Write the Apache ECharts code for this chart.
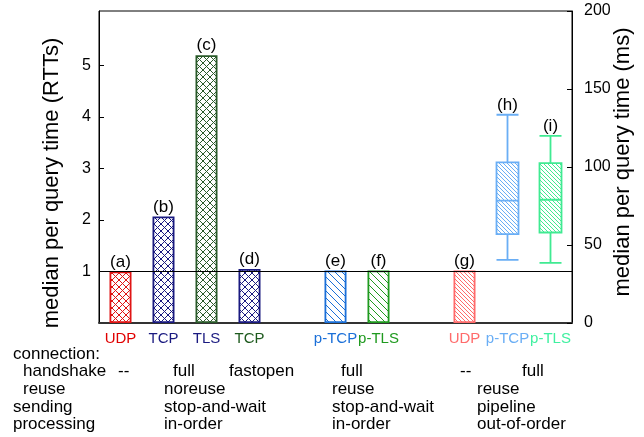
<!DOCTYPE html>
<html>
<head>
<meta charset="utf-8">
<script src="https://cdn.jsdelivr.net/npm/echarts@6/dist/echarts.min.js"></script>
<style>
html,body{margin:0;padding:0;background:#fff;}
#c{width:644px;height:437px;}
</style>
</head>
<body>
<div id="c"></div>
<script>
// ---------- data ----------
const categories = ['UDP','TCP','TLS','TCP','','p-TCP','p-TLS','','UDP','p-TCP','p-TLS'];
const barLetters = ['(a)','(b)','(c)','(d)','','(e)','(f)','','(g)','(h)','(i)'];
const barRTT     = [1.0, 2.07, 5.2, 1.05, null, 1.02, 1.02, null, 1.02, null, null];
// boxplots in ms: [categoryIndex, min, Q1, median, Q3, max]
const boxH = [9, 40.5, 57, 78.5, 103, 133.5];
const boxI = [10, 38.5, 58, 79, 102.5, 120];
const rttTicks = [1,2,3,4,5];
const msTicks  = [0,50,100,150,200];
const msPerRTT = 33;   // scale relation between the two axes
const refRTT = 1;

const rowNames = ['connection:','handshake','reuse','sending','processing'];
const rowValues = [
  [],
  ['--','full','fastopen','full','--','full'],
  ['noreuse','reuse','reuse'],
  ['stop-and-wait','stop-and-wait','pipeline'],
  ['in-order','in-order','out-of-order']
];

// ---------- styles / layout ----------
const barColors = ['#e01515','#1a1a80','#2a5a2a','#1a1a80',null,'#1a6fd8','#1f9a1f',null,'#ff6b6b','#6aaef5','#40ea92'];
const labelColors = ['#e00000','#1a1a80','#1a1a80','#1e5a1e','#000','#1a6fd8','#1f9a1f','#000','#ff6b6b','#6aaef5','#40f0a0'];
const patternKind = ['cross','cross','cross','cross',null,'diag6','diag6',null,'diag4','diag4','diag4'];
const rowX = [13,23,23,13,13];
const rowY = [356,373,391,409,426];
const valX = [
  [],
  [118,173,229,341,460,522],
  [164,332,477],
  [164,332,477],
  [164,332,477]
];
const FONT = '"Liberation Sans", Arial, Helvetica, sans-serif';

function makePattern(kind, color){
  const c = document.createElement('canvas');
  let p;
  if (kind === 'cross') p = 7; else if (kind === 'diag6') p = 7; else p = 4;
  c.width = p; c.height = p;
  const g = c.getContext('2d');
  g.fillStyle = '#fff'; g.fillRect(0,0,p,p);
  g.strokeStyle = color; g.lineWidth = 1;
  g.beginPath();
  for (let k=-1;k<=1;k++){
    g.moveTo(k*p, 0); g.lineTo(k*p+p, p);
    if (kind === 'cross'){ g.moveTo(k*p+p, 0); g.lineTo(k*p, p); }
  }
  g.stroke();
  return {image: c, repeat: 'repeat'};
}

const barData = barRTT.map((v,i)=> v==null ? '-' : ({
  value: v,
  itemStyle: {color: makePattern(patternKind[i], barColors[i]), borderColor: barColors[i], borderWidth: 1.8},
  label: {show:true, formatter: barLetters[i]}
}));

const boxData = [boxH, boxI].map(b => ({
  value: b,
  itemStyle: {color: makePattern(patternKind[b[0]], barColors[b[0]]), borderColor: barColors[b[0]], borderWidth: 1.8}
}));
const boxLabelData = [boxH, boxI].map(b => ({value: [b[0], b[5]], label: {formatter: barLetters[b[0]]}}));

const graphics = [];
rowNames.forEach((n,r)=>{
  graphics.push({type:'text', left: rowX[r], top: rowY[r]-10, style:{text:n, font:'17px '+FONT, fill:'#000'}});
  rowValues[r].forEach((t,j)=>{
    graphics.push({type:'text', left: valX[r][j], top: rowY[r]-10, style:{text:t, font:'17px '+FONT, fill:'#000'}});
  });
});
graphics.push({type:'text', x:52, y:183, rotation: Math.PI/2,
  style:{text:'median per query time (RTTs)', font:'22px '+FONT, fill:'#000', align:'center', verticalAlign:'middle'}});
graphics.push({type:'text', x:623, y:162, rotation: Math.PI/2,
  style:{text:'median per query time (ms)', font:'22px '+FONT, fill:'#000', align:'center', verticalAlign:'middle'}});

const chart = echarts.init(document.getElementById('c'), null, {renderer:'canvas'});
chart.setOption({
  animation:false,
  backgroundColor:'#fff',
  textStyle:{fontFamily: FONT},
  grid:{left:99, right:72, top:11, bottom:114, show:true, borderColor:'#000', borderWidth:1, backgroundColor:'transparent'},
  xAxis:{
    type:'category', data: categories, boundaryGap:true,
    axisLine:{lineStyle:{color:'#333', width:2}},
    axisTick:{show:false},
    axisLabel:{interval:0, margin:8, fontSize:15, fontFamily:FONT, color:(v,i)=>labelColors[i]},
    splitLine:{show:false}
  },
  yAxis:[
    {type:'value', min:0, max: msTicks[msTicks.length-1]/msPerRTT, position:'left',
     axisLine:{show:true, lineStyle:{color:'#000'}},
     axisTick:{show:true, inside:true, length:5, customValues: rttTicks, lineStyle:{color:'#000'}},
     axisLabel:{customValues: rttTicks, fontSize:16, color:'#000', margin:8, fontFamily:FONT},
     splitLine:{show:false}},
    {type:'value', min:0, max:200, interval:50, position:'right',
     axisLine:{show:true, lineStyle:{color:'#000'}},
     axisTick:{show:true, inside:true, length:5, lineStyle:{color:'#000'}},
     axisLabel:{fontSize:16, color:'#000', margin:12, fontFamily:FONT},
     splitLine:{show:false}}
  ],
  series:[
    {type:'bar', yAxisIndex:0, data: barData, barWidth:22,
     label:{show:true, position:'top', distance:1, fontSize:17, color:'#000', fontFamily:FONT},
     markLine:{silent:true, symbol:'none', label:{show:false},
       lineStyle:{color:'#000', width:1, type:'solid'}, data:[{yAxis: refRTT}]}},
    {type:'boxplot', yAxisIndex:1, data: boxData, boxWidth:[22,22],
     encode:{x:0, y:[1,2,3,4,5]}},
    {type:'scatter', yAxisIndex:1, data: boxLabelData, symbolSize:0,
     itemStyle:{opacity:1, color:'#000'},
     label:{show:true, position:'top', distance:1, fontSize:17, color:'#000', opacity:1, fontFamily:FONT}}
  ],
  graphic: graphics
});
</script>
</body>
</html>
